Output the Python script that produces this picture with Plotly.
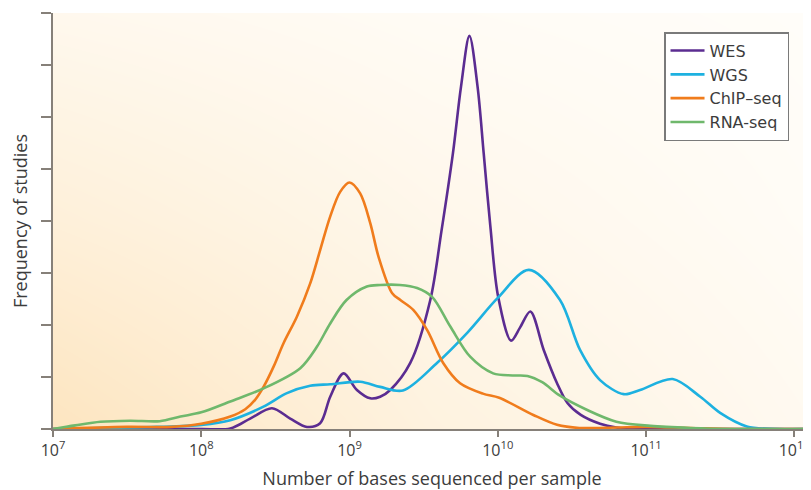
import numpy as np
import plotly.graph_objects as go

# ---- data (x as log10 of bases per sample, y = frequency of studies) ----
wes_logx = [7.0, 7.6, 8.0, 8.196, 8.33, 8.477, 8.6, 8.713, 8.802, 8.87, 8.96, 9.05, 9.14,
            9.207, 9.275, 9.41, 9.545, 9.62, 9.698, 9.752, 9.809, 9.864, 9.905, 9.95, 10.003,
            10.09, 10.15, 10.22, 10.31, 10.40, 10.47, 10.56, 10.69, 10.8, 10.95, 11.5, 12.113]
wes_y = [0.0, 0.0, 0.0, 0.01, 0.2, 0.4, 0.2, 0.04, 0.11, 0.62, 1.07, 0.75, 0.59,
         0.62, 0.75, 1.27, 2.48, 3.8, 5.31, 6.58, 7.56, 6.58, 5.31, 3.9, 2.54,
         1.70, 1.95, 2.26, 1.52, 0.88, 0.5, 0.27, 0.1, 0.03, 0.0, 0.0, 0.0]

wgs_logx = [7.0, 7.3, 7.7, 8.0, 8.196, 8.42, 8.578, 8.735, 8.87, 9.072, 9.207, 9.36, 9.59,
            9.794, 10.0, 10.21, 10.42, 10.555, 10.69, 10.85, 10.96, 11.18, 11.366, 11.5,
            11.68, 11.9, 12.113]
wgs_y = [0.0, 0.02, 0.04, 0.08, 0.17, 0.43, 0.69, 0.83, 0.86, 0.91, 0.81, 0.74, 1.27,
         1.85, 2.52, 3.06, 2.48, 1.52, 0.94, 0.67, 0.75, 0.96, 0.62, 0.31,
         0.05, 0.0, 0.0]

chip_logx = [7.0, 7.5, 7.8, 8.0, 8.196, 8.297, 8.363, 8.42, 8.488, 8.555, 8.645, 8.735,
             8.802, 8.869, 8.937, 9.0, 9.072, 9.14, 9.196, 9.288, 9.343, 9.43, 9.524,
             9.632, 9.746, 9.90, 10.01, 10.24, 10.4, 10.55, 10.8, 11.0, 11.3, 11.6, 12.113]
chip_y = [0.0, 0.04, 0.04, 0.1, 0.24, 0.38, 0.56, 0.81, 1.2, 1.65, 2.16, 2.8,
          3.44, 4.08, 4.56, 4.74, 4.53, 3.96, 3.31, 2.61, 2.48, 2.29, 1.90,
          1.27, 0.88, 0.68, 0.6, 0.27, 0.08, 0.02, 0.03, 0.04, 0.02, 0.0, 0.0]

rna_logx = [7.0, 7.15, 7.32, 7.52, 7.72, 7.86, 8.0, 8.196, 8.42, 8.668, 8.78, 8.87, 8.98,
            9.117, 9.207, 9.34, 9.456, 9.557, 9.68, 9.814, 9.969, 10.1, 10.2, 10.3,
            10.42, 10.6, 10.8, 11.03, 11.3, 11.6, 12.113]
rna_y = [0.0, 0.07, 0.14, 0.16, 0.15, 0.24, 0.32, 0.53, 0.78, 1.17, 1.58, 2.03, 2.48,
         2.74, 2.77, 2.77, 2.71, 2.54, 1.97, 1.39, 1.07, 1.03, 1.02, 0.9,
         0.64, 0.37, 0.14, 0.06, 0.02, 0.0, 0.0]

series_names = ["WES", "WGS", "ChIP–seq", "RNA-seq"]
series_colors = ["#5b2c91", "#1db1e0", "#f07c1c", "#6fb86c"]
series_x = [wes_logx, wgs_logx, chip_logx, rna_logx]
series_y = [wes_y, wgs_y, chip_y, rna_y]

tick_exponents = [7, 8, 9, 10, 11, 12]
tick_labels = ["10<sup>%d</sup>" % e for e in tick_exponents]

FONT = "Open Sans"
TEXT = "#3c3c3c"
AXIS = "#868079"

fig = go.Figure()

# decorative background gradient (on hidden base axes)
fig.add_trace(go.Heatmap(
    x=[0, 0.5, 1], y=[0, 0.5, 1],
    z=[[0.0, 0.55, 0.85],
       [0.45, 0.75, 0.95],
       [0.8, 0.93, 1.0]],
    zsmooth="best", showscale=False, hoverinfo="skip",
    colorscale=[[0, "#fde5c0"], [0.5, "#fef1dc"], [1, "#fffdf9"]],
    xaxis="x", yaxis="y", zmin=0, zmax=1))

for name, color, lx, ly in zip(series_names, series_colors, series_x, series_y):
    fig.add_trace(go.Scatter(
        x=10 ** np.array(lx), y=ly, name=name, mode="lines",
        line=dict(color=color, width=2.6, shape="spline", smoothing=0.9),
        xaxis="x2", yaxis="y2"))

fig.update_layout(
    width=803, height=482,
    margin=dict(l=45, r=0, t=5, b=61, autoexpand=False),
    paper_bgcolor="white", plot_bgcolor="white",
    font=dict(family=FONT, color=TEXT, size=16),
    showlegend=True,
    xaxis=dict(range=[0, 1], visible=False, fixedrange=True, automargin=False),
    yaxis=dict(range=[0, 1], visible=False, fixedrange=True, automargin=False),
    xaxis2=dict(type="log", range=[7, 12.113], overlaying="x", anchor="y2",
                automargin=False,
                tickvals=[10 ** e for e in tick_exponents], ticktext=tick_labels,
                ticks="outside", ticklen=6, tickwidth=1.5, tickcolor=AXIS,
                showline=True, linecolor=AXIS, linewidth=2,
                showgrid=False, zeroline=False,
                tickfont=dict(size=16, color=TEXT),
                title=dict(text="Number of bases sequenced per sample",
                           font=dict(size=18, color=TEXT), standoff=20)),
    yaxis2=dict(range=[0, 8], overlaying="y", anchor="x2", automargin=False,
                tickvals=list(range(0, 9)), showticklabels=False,
                ticks="outside", ticklen=10, tickwidth=1.5, tickcolor=AXIS,
                showline=True, linecolor=AXIS, linewidth=2,
                showgrid=False, zeroline=False,
                title=dict(text="Frequency of studies",
                           font=dict(size=18, color=TEXT), standoff=10)),
    legend=dict(x=0.971, y=0.954, xanchor="right", yanchor="top",
                bgcolor="white", bordercolor="#7a7a7a", borderwidth=1.5,
                font=dict(size=16, color=TEXT, family="DejaVu Sans"), itemwidth=34,
                tracegroupgap=0),
)

fig.write_html("out.html")
